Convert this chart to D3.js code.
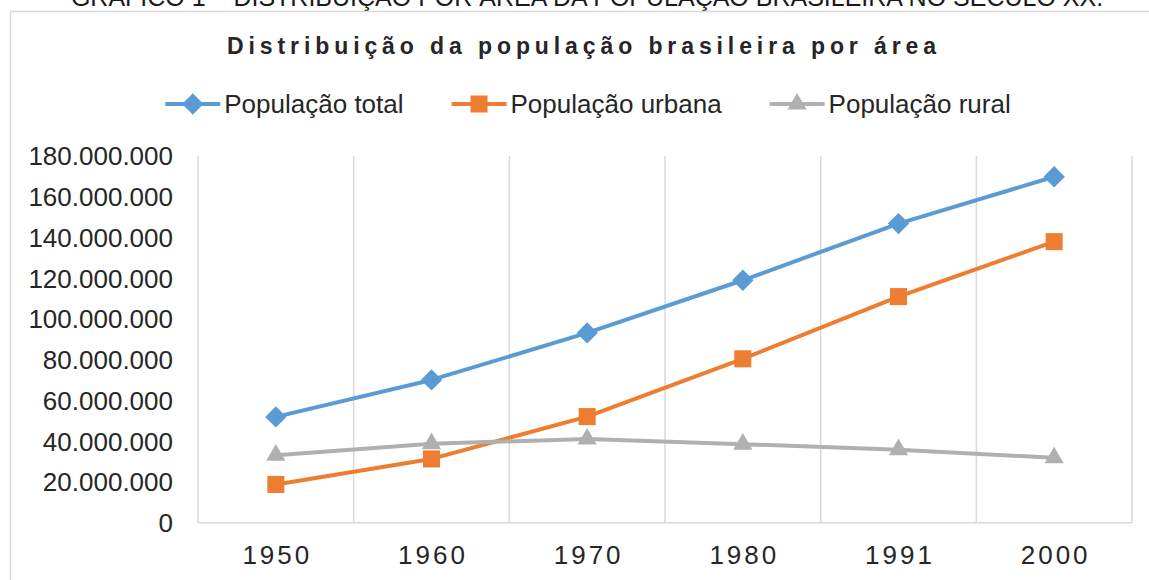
<!DOCTYPE html>
<html>
<head>
<meta charset="utf-8">
<script src="https://cdn.jsdelivr.net/npm/d3@7"></script>
<style>
  body { margin: 0; background: #fff; }
  svg { display: block; font-family: 'Liberation Sans', Arial, sans-serif; }
</style>
</head>
<body>
<div class="chart"></div>
<script>
// Line chart of Brazilian population by area (20th century)
'use strict';

var years = ['1950', '1960', '1970', '1980', '1991', '2000'];
var totalPop = [51944397, 70070457, 93139037, 119002706, 146825475, 169799170];
var urbanPop = [18782891, 31303034, 52084984, 80436409, 110990990, 137953959];
var ruralPop = [33161506, 38767423, 41054053, 38566297, 35834485, 31845211];
var yTicks = [0, 20000000, 40000000, 60000000, 80000000, 100000000, 120000000, 140000000, 160000000, 180000000];

var seriesNames = ['População total', 'População urbana', 'População rural'];
var seriesColors = ['#5b9bd5', '#ed7d31', '#b0b0b0'];
var seriesShapes = [d3.symbolDiamond2, d3.symbolSquare, d3.symbolTriangle];

var width = 1149;
var height = 580;

var svg = d3.select('.chart')
            .append('svg')
            .attr('width', width)
            .attr('height', height);

// caption above the chart box (cut at the top edge, as in the source)
svg.append('text')
   .attr('x', 587)
   .attr('y', 5.5)
   .attr('text-anchor', 'middle')
   .attr('font-size', '25px')
   .attr('fill', '#1a1a1a')
   .text('GRÁFICO 1 – DISTRIBUIÇÃO POR ÁREA DA POPULAÇÃO BRASILEIRA NO SÉCULO XX.');

// chart frame
svg.append('rect')
   .attr('x', 10.5)
   .attr('y', 11.5)
   .attr('width', 1150)
   .attr('height', 600)
   .attr('fill', '#fff')
   .attr('stroke', '#d9d9d9')
   .attr('stroke-width', 1.5);

// title, spread to match the original width
var title = svg.append('text')
   .attr('x', 584)
   .attr('y', 54)
   .attr('text-anchor', 'middle')
   .attr('font-size', '23px')
   .attr('font-weight', 'bold')
   .attr('fill', '#262626')
   .text('Distribuição da população brasileira por área');
var titleLen = title.node().getComputedTextLength();
var titleText = title.text();
title.attr('letter-spacing', ((709 - titleLen) / (titleText.length - 1)) + 'px');

var margin = { top: 156, right: 17, bottom: 57.3, left: 198 };

var x = d3.scaleBand()
          .domain(years)
          .range([margin.left, width - margin.right]);

var y = d3.scaleLinear()
          .domain([0, 180000000])
          .range([height - margin.bottom, margin.top]);

var fmt = d3.formatLocale({ decimal: ',', thousands: '.', grouping: [3], currency: ['R$', ''] }).format(',d');

// vertical gridlines at category boundaries
var bounds = years.map(function(d) { return x(d); }).concat([x.range()[1]]);
svg.selectAll('.vgrid')
   .data(bounds)
   .enter()
   .append('line')
   .attr('class', 'vgrid')
   .attr('x1', function(d) { return d; })
   .attr('x2', function(d) { return d; })
   .attr('y1', y(180000000))
   .attr('y2', y(0))
   .attr('stroke', '#d9d9d9')
   .attr('stroke-width', 1.5);

svg.append('line')
   .attr('x1', x.range()[0])
   .attr('x2', x.range()[1])
   .attr('y1', y(0))
   .attr('y2', y(0))
   .attr('stroke', '#d9d9d9')
   .attr('stroke-width', 1.5);

// y axis labels
svg.selectAll('.ylab')
   .data(yTicks)
   .enter()
   .append('text')
   .attr('class', 'ylab')
   .attr('x', 173)
   .attr('y', function(d) { return y(d); })
   .attr('dy', '0.36em')
   .attr('text-anchor', 'end')
   .attr('font-size', '26px')
   .attr('fill', '#262626')
   .text(function(d) { return fmt(d); });

// x axis labels
svg.selectAll('.xlab')
   .data(years)
   .enter()
   .append('text')
   .attr('class', 'xlab')
   .attr('x', function(d) { return x(d) + x.bandwidth() / 2 + 1.5; })
   .attr('y', 564)
   .attr('text-anchor', 'middle')
   .attr('font-size', '26px')
   .attr('letter-spacing', '3px')
   .attr('fill', '#262626')
   .text(function(d) { return d; });

// series lines and markers
var allSeries = [totalPop, urbanPop, ruralPop];
var line = d3.line()
             .x(function(d, i) { return x(years[i]) + x.bandwidth() / 2; })
             .y(function(d) { return y(d); });

allSeries.forEach(function(values, s) {
  svg.append('path')
     .datum(values)
     .attr('d', line)
     .attr('fill', 'none')
     .attr('stroke', seriesColors[s])
     .attr('stroke-width', 4)
     .attr('stroke-linejoin', 'round');

  svg.selectAll('.mark' + s)
     .data(values)
     .enter()
     .append('path')
     .attr('class', 'mark' + s)
     .attr('transform', function(d, i) {
       return 'translate(' + (x(years[i]) + x.bandwidth() / 2) + ',' + y(d) + ')';
     })
     .attr('d', d3.symbol().type(seriesShapes[s]).size(s === 2 ? 160 : 290))
     .attr('fill', seriesColors[s]);
});

// legend
var legend = svg.append('g');
var lx = 0;
seriesNames.forEach(function(name, s) {
  var item = legend.append('g').attr('transform', 'translate(' + lx + ',0)');
  item.append('line')
      .attr('x1', 0)
      .attr('x2', 55)
      .attr('y1', 0)
      .attr('y2', 0)
      .attr('stroke', seriesColors[s])
      .attr('stroke-width', 4);
  item.append('path')
      .attr('transform', 'translate(27.5,0)')
      .attr('d', d3.symbol().type(seriesShapes[s]).size(s === 2 ? 160 : 290))
      .attr('fill', seriesColors[s]);
  var t = item.append('text')
      .attr('x', 59)
      .attr('y', 0)
      .attr('dy', '0.35em')
      .attr('font-size', '26px')
      .attr('fill', '#262626')
      .text(name);
  lx += 59 + t.node().getComputedTextLength() + 48;
});
var legendWidth = lx - 48;
legend.attr('transform', 'translate(' + (588 - legendWidth / 2) + ',104)');
</script>
</body>
</html>
